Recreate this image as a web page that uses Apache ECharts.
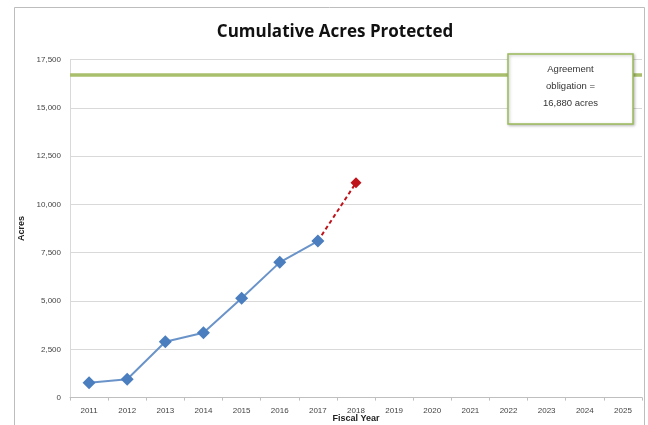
<!DOCTYPE html>
<html><head><meta charset="utf-8">
<script src="https://cdn.jsdelivr.net/npm/echarts@6/dist/echarts.min.js"></script>
<style>html,body{margin:0;padding:0;background:#fff}#c{width:648px;height:425px}</style>
</head><body><div id="c"></div>
<script>
const years = ['2011','2012','2013','2014','2015','2016','2017','2018','2019','2020','2021','2022','2023','2024','2025'];
const actual = [770, 950, 2890, 3360, 5140, 7000, 8100, null, null, null, null, null, null, null, null];
const projected = [null, null, null, null, null, null, 8100, 11120, null, null, null, null, null, null, null];
const obligation = 16700;
const yTicks = [0, 2500, 5000, 7500, 10000, 12500, 15000, 17500];

const chart = echarts.init(document.getElementById('c'), null, {renderer: 'canvas'});
const font = 'Liberation Sans';
chart.setOption({
  backgroundColor: '#fff',
  animation: false,
  title: {text: 'Cumulative Acres Protected', left: 330, top: 19, textAlign: 'center',
    textStyle: {fontFamily: 'Open Sans', fontSize: 17, fontWeight: 'bold', color: '#111'}},
  grid: {left: 70, right: 6, top: 59.5, bottom: 27.4, outerBoundsMode: 'none', containLabel: false},
  xAxis: {
    type: 'category', data: years, boundaryGap: true,
    name: 'Fiscal Year', nameLocation: 'middle', nameGap: 16, nameMoveOverlap: false,
    nameTextStyle: {fontFamily: font, fontSize: 9, fontWeight: 'bold', color: '#222'},
    axisLine: {lineStyle: {color: '#bfbfbf'}},
    axisTick: {show: true, length: 3, lineStyle: {color: '#bfbfbf'}},
    axisLabel: {fontFamily: font, fontSize: 8, color: '#444', margin: 9}
  },
  yAxis: {
    type: 'value', min: 0, max: 17500, interval: 2500,
    name: 'Acres', nameLocation: 'middle', nameGap: 44, nameMoveOverlap: false, nameRotate: 90,
    nameTextStyle: {fontFamily: font, fontSize: 9, fontWeight: 'bold', color: '#222'},
    axisLine: {show: true, lineStyle: {color: '#d9d9d9'}},
    axisTick: {show: false},
    splitLine: {lineStyle: {color: '#d9d9d9'}},
    axisLabel: {fontFamily: font, fontSize: 8, color: '#444', margin: 9,
      formatter: v => yTicks.includes(v) ? v.toLocaleString('en-US') : ''}
  },
  series: [
    {type: 'line', data: projected, z: 2,
      lineStyle: {color: '#c0141c', width: 2, type: [4, 3]},
      symbol: 'diamond', symbolSize: 11, itemStyle: {color: '#c0141c'},
      showAllSymbol: true,
      markLine: {silent: true, symbol: 'none', label: {show: false},
        lineStyle: {color: '#a9bf6c', width: 3.5, type: 'solid'},
        data: [{yAxis: obligation}]}
    },
    {type: 'line', data: actual, z: 3,
      lineStyle: {color: '#6a94c9', width: 2},
      symbol: 'diamond', symbolSize: 13, itemStyle: {color: '#4a7ebf'}}
  ],
  graphic: [
    {type: 'rect', shape: {x: 14.5, y: 7.5, width: 630, height: 430}, style: {fill: 'none', stroke: '#bdbdbd', lineWidth: 1}, z: 0},
    {type: 'rect', shape: {x: 508, y: 54, width: 125, height: 70},
      style: {fill: '#fff', stroke: '#9bbb59', lineWidth: 1.5, shadowBlur: 3, shadowColor: 'rgba(0,0,0,0.25)', shadowOffsetX: 1, shadowOffsetY: 1}, z: 100},
    {type: 'text', x: 570.5, y: 86, z: 101,
      style: {text: 'Agreement\nobligation =\n16,880 acres', align: 'center', verticalAlign: 'middle',
        font: '9.5px "Liberation Sans"', fill: '#333', lineHeight: 17}}
  ]
});
</script></body></html>
